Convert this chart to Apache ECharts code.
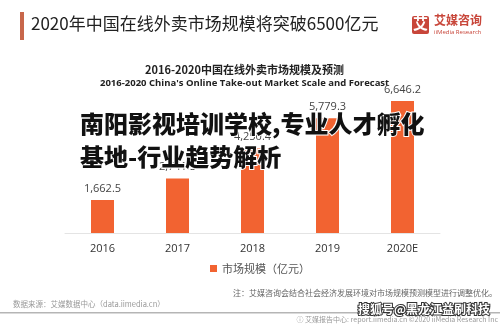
<!DOCTYPE html>
<html>
<head>
<meta charset="utf-8">
<script src="https://cdn.jsdelivr.net/npm/echarts@6/dist/echarts.min.js"></script>
<style>
  html, body { margin: 0; padding: 0; background: #fff; }
  #chart { width: 500px; height: 325px; }
</style>
</head>
<body>
<div id="chart"></div>
<script>
// Market size of China's online take-out sector, 2016-2020 (亿元)
var years = ['2016', '2017', '2018', '2019', '2020E'];
var marketSize = [1662.5, 2741.5, 4250.4, 5779.3, 6646.2];
var seriesName = '市场规模（亿元）';

var CJK = '"Noto Sans CJK SC", "Noto Sans", sans-serif';
var barColor = '#f26331';

var chart = echarts.init(document.getElementById('chart'), null, { renderer: 'canvas' });

chart.setOption({
  backgroundColor: '#ffffff',
  animation: false,
  textStyle: { fontFamily: CJK },
  grid: { left: 65, right: 60, top: 94, bottom: 92 },
  legend: {
    data: [seriesName],
    left: 205, top: 258,
    itemWidth: 7, itemHeight: 7, itemGap: 4,
    icon: 'rect',
    textStyle: { fontSize: 11, color: '#555', fontFamily: CJK }
  },
  xAxis: {
    type: 'category',
    data: years,
    axisLine: { lineStyle: { color: '#e4e4e4', width: 1 } },
    axisTick: { show: false },
    axisLabel: { color: '#333', fontSize: 11, margin: 10, fontFamily: 'Open Sans, sans-serif' }
  },
  yAxis: {
    type: 'value', min: 0, max: 7000,
    show: false, splitLine: { show: false }
  },
  series: [{
    name: seriesName,
    type: 'bar',
    data: marketSize,
    barWidth: 23,
    itemStyle: { color: barColor },
    label: {
      show: true, position: 'top', distance: 6,
      color: '#444', fontSize: 11, fontFamily: 'Open Sans, sans-serif',
      formatter: function (p) {
        return p.value.toLocaleString('en-US', { minimumFractionDigits: 1, maximumFractionDigits: 1 });
      }
    }
  }],
  graphic: [
    // header accent bar and headline
    { type: 'rect', left: 20, top: 12, shape: { width: 4, height: 28 }, style: { fill: '#c8674b' } },
    { type: 'text', left: 31, top: 15, style: { text: '2020年中国在线外卖市场规模将突破6500亿元', fontSize: 17, fill: '#222', fontFamily: CJK } },
    // brand mark
    { type: 'rect', left: 412, top: 16, shape: { width: 17, height: 18, r: 2 }, style: { fill: '#c8463a' } },
    { type: 'text', left: 413, top: 16, style: { text: '艾', fontSize: 15, fontWeight: 'bold', fill: '#fff', fontFamily: CJK } },
    { type: 'text', left: 434, top: 14, style: { text: '艾媒咨询', fontSize: 12, fontWeight: 'bold', fill: '#c8463a', fontFamily: CJK } },
    { type: 'text', left: 434, top: 29, style: { text: 'iiMedia Research', fontSize: 6, fill: '#c8463a', fontFamily: 'Open Sans, sans-serif' } },
    // chart titles
    { type: 'text', left: 145, top: 64, style: { text: '2016-2020中国在线外卖市场规模及预测', fontSize: 11, fontWeight: 'bold', fill: '#222', fontFamily: CJK } },
    { type: 'text', left: 100, top: 78, style: { text: "2016-2020 China's Online Take-out Market Scale and Forecast", fontSize: 9.5, fontWeight: 'bold', fill: '#222', fontFamily: 'Open Sans, sans-serif' } },
    // overlaid headline, drawn above the bars
    { type: 'text', z: 100, left: 79, top: 111, style: { text: '南阳影视培训学校,专业人才孵化', fontSize: 24, fontWeight: 900, fill: '#111', stroke: '#fff', lineWidth: 2, fontFamily: CJK } },
    { type: 'text', z: 100, left: 79, top: 144, style: { text: '基地-行业趋势解析', fontSize: 24, fontWeight: 900, fill: '#111', stroke: '#fff', lineWidth: 2, fontFamily: CJK } },
    // footnotes
    { type: 'text', right: 3, top: 289, style: { text: '注：艾媒咨询会结合社会经济发展环境对市场规模预测模型进行调整优化。', fontSize: 8, fill: '#666', fontFamily: CJK } },
    { type: 'text', left: 13, top: 300, style: { text: '数据来源：艾媒数据中心（data.iimedia.cn）', fontSize: 7.5, fill: '#999', fontFamily: CJK } },
    { type: 'rect', left: 0, top: 312, shape: { width: 500, height: 1.5 }, style: { fill: '#b5b5b5' } },
    { type: 'text', right: 2, top: 316, style: { text: 'ⓘ 艾媒报告中心: report.iimedia.cn ©2020 iiMedia Research Inc', fontSize: 7, fill: '#999', fontFamily: CJK } },
    // publisher mark
    { type: 'text', z: 100, left: 357, top: 302, style: { text: '搜狐号@黑龙江益刷科技', fontSize: 12, fontWeight: 'bold', fill: '#fff', stroke: '#333', lineWidth: 2, fontFamily: CJK } }
  ]
});
</script>
</body>
</html>
